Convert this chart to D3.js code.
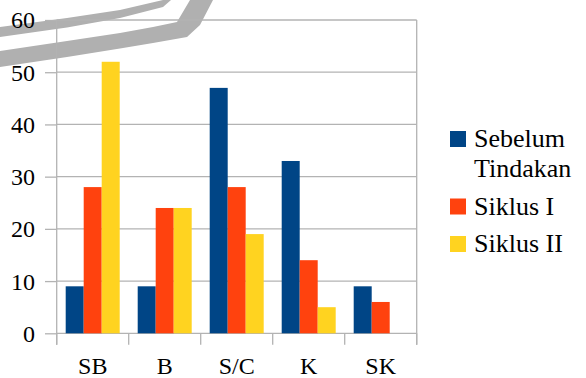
<!DOCTYPE html>
<html>
<head>
<meta charset="utf-8">
<script src="https://cdn.jsdelivr.net/npm/d3@7"></script>
</head>
<body style="margin:0; background:#ffffff">
<svg id="chart" width="586" height="378" font-family="Liberation Serif"></svg>
<script>
// Category labels along the x axis
const categories = ["SB", "B", "S/C", "K", "SK"];
// Series names (legend) and colours
const seriesNames = ["Sebelum Tindakan", "Siklus I", "Siklus II"];
const seriesLegendLines = [["Sebelum", "Tindakan"], ["Siklus I"], ["Siklus II"]];
const seriesColors = ["#004586", "#ff420e", "#ffd320"];
// Values per series, one per category
const sebelumTindakan = [9, 9, 47, 33, 9];
const siklusI = [28, 24, 28, 14, 6];
const siklusII = [52, 24, 19, 5, 0];
// Y axis ticks
const yTicks = [0, 10, 20, 30, 40, 50, 60];

const seriesValues = [sebelumTindakan, siklusI, siklusII];
const FONT = "Liberation Serif";

const svg = d3.select("#chart");
const plot = { left: 56.7, right: 416.7, top: 20, bottom: 333.3 };
const gridColor = "#b3b3b3";

// Decorative grey swoosh in the upper left corner
const swooshes = [
  [[0, 27], [67, 18], [120, 10], [163, 0], [171, 0], [163, 7], [120, 18], [67, 27.5], [0, 37]],
  [[0, 51], [67, 41], [120, 33], [153, 27], [177, 22], [190, 0], [213, 0], [200, 25], [187, 37], [153, 43], [120, 48.5], [67, 57], [0, 67]]
];
svg.append("g").selectAll("path").data(swooshes).join("path")
  .attr("d", d => "M" + d.map(p => p.join(",")).join("L") + "Z")
  .attr("fill", "#b0b0b0");

const y = d3.scaleLinear().domain([0, 60]).range([plot.bottom, plot.top]);
const xCat = d3.scaleBand().domain(categories).range([plot.left, plot.right]).padding(0);
const xSer = d3.scaleBand().domain(seriesNames).range([0, xCat.bandwidth()])
  .paddingInner(0).paddingOuter(0.5);

// Horizontal gridlines
svg.append("g").selectAll("line").data(yTicks).join("line")
  .attr("x1", plot.left).attr("x2", plot.right)
  .attr("y1", d => y(d)).attr("y2", d => y(d))
  .attr("stroke", gridColor).attr("stroke-width", 1.3);

// Right frame line
svg.append("line")
  .attr("x1", plot.right).attr("x2", plot.right)
  .attr("y1", plot.top).attr("y2", plot.bottom + 11.5)
  .attr("stroke", gridColor).attr("stroke-width", 1.3);

// Bars
const groups = svg.append("g").selectAll("g").data(categories).join("g")
  .attr("transform", d => `translate(${xCat(d)},0)`);
groups.selectAll("rect")
  .data((c, i) => seriesNames.map((s, j) => ({ s, j, v: seriesValues[j][i] })))
  .join("rect")
  .attr("x", d => xSer(d.s))
  .attr("width", xSer.bandwidth())
  .attr("y", d => y(d.v))
  .attr("height", d => y(0) - y(d.v))
  .attr("fill", d => seriesColors[d.j]);

// Y axis
const yAxis = svg.append("g")
  .attr("transform", `translate(${plot.left},0)`)
  .call(d3.axisLeft(y).tickValues(yTicks).tickSize(11.7).tickPadding(10).tickFormat(d3.format("d")));
yAxis.attr("font-family", FONT).attr("font-size", 24);
yAxis.select(".domain").remove();
yAxis.selectAll(".tick line").attr("stroke", gridColor).attr("stroke-width", 1.3);
yAxis.selectAll(".tick text")
  .attr("font-family", FONT).attr("font-size", 24).attr("fill", "#000")
  .attr("dy", "0.33em");
svg.append("line")
  .attr("x1", plot.left).attr("x2", plot.left)
  .attr("y1", plot.top).attr("y2", plot.bottom + 11.5)
  .attr("stroke", gridColor).attr("stroke-width", 1.3);

// X axis: boundary ticks between categories, labels at the centres
const boundaries = categories.map(c => xCat(c)).concat([plot.right]);
svg.append("g").selectAll("line").data(boundaries).join("line")
  .attr("x1", d => d).attr("x2", d => d)
  .attr("y1", plot.bottom).attr("y2", plot.bottom + 11.5)
  .attr("stroke", gridColor).attr("stroke-width", 1.3);
const xAxis = svg.append("g")
  .attr("transform", `translate(0,${plot.bottom})`)
  .call(d3.axisBottom(xCat).tickSize(0).tickPadding(24));
xAxis.attr("font-family", FONT).attr("font-size", 24);
xAxis.select(".domain").remove();
xAxis.selectAll(".tick text")
  .attr("font-family", FONT).attr("font-size", 24).attr("fill", "#000");

// Legend
const legend = svg.append("g").attr("font-family", FONT).attr("font-size", 26);
let cy = 147;
seriesLegendLines.forEach((lines, j) => {
  legend.append("rect")
    .attr("x", 450).attr("y", cy - 16).attr("width", 16).attr("height", 16)
    .attr("fill", seriesColors[j]);
  lines.forEach((ln, k) => {
    legend.append("text")
      .attr("x", 474).attr("y", cy + k * 30)
      .attr("font-family", FONT).attr("font-size", 26).attr("fill", "#000")
      .text(ln);
  });
  cy += (lines.length - 1) * 30 + 37.5;
});
</script>
</body>
</html>
